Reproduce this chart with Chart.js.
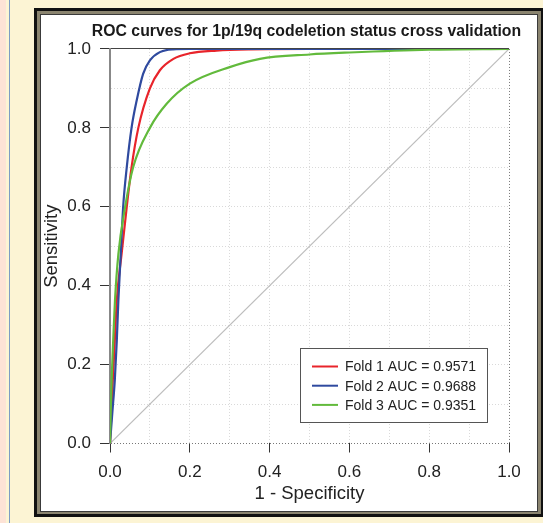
<!DOCTYPE html>
<html>
<head>
<meta charset="utf-8">
<script src="https://cdn.jsdelivr.net/npm/chart.js@4"></script>
<style>
  body { margin: 0; width: 543px; height: 523px; overflow: hidden; background: #fcf4d4; position: relative; }
  #pink { position: absolute; left: 0; top: 0; width: 6px; height: 523px; background: #fde3d6; }
  #rule { position: absolute; left: 9px; top: 0; width: 1px; height: 523px; background: #7d9cc4; }
  #frame { position: absolute; left: 34px; top: 8px; width: 509px; height: 509px; background: #111; }
  #frame .taupe { position: absolute; left: 3px; top: 3px; right: 2px; bottom: 3px; background: #8a846f; }
  #frame .dark { position: absolute; left: 3px; top: 3px; right: 3px; bottom: 2px; background: #3a3a3a; }
  #frame .paper { position: absolute; left: 1px; top: 1px; right: 1px; bottom: 1px; background: #fff; }
  #chart { position: absolute; left: 0; top: 0; z-index: 2; }
</style>
</head>
<body>
<div id="pink"></div>
<div id="rule"></div>
<div id="frame"><div class="taupe"><div class="dark"><div class="paper"></div></div></div></div>
<canvas id="chart" width="613" height="523"></canvas>
<script>
const chartTitle = 'ROC curves for 1p/19q codeletion status cross validation';
const foldLabels = ['Fold 1 AUC = 0.9571', 'Fold 2 AUC = 0.9688', 'Fold 3 AUC = 0.9351'];
const foldColors = ['#e8242b', '#2f4a9f', '#62ba3c'];

// 1 - specificity / sensitivity
const fold1Fpr = [0, 0.004, 0.007, 0.012, 0.017, 0.029, 0.042, 0.054, 0.071, 0.1, 0.125, 0.159, 0.2, 0.267, 0.35, 0.5, 1];
const fold1Tpr = [0, 0.09, 0.16, 0.26, 0.363, 0.48, 0.6, 0.7, 0.8, 0.9, 0.946, 0.975, 0.989, 0.996, 0.999, 1, 1];
const fold2Fpr = [0, 0.006, 0.012, 0.017, 0.021, 0.027, 0.033, 0.042, 0.054, 0.067, 0.083, 0.1, 0.125, 0.158, 0.2, 1];
const fold2Tpr = [0, 0.08, 0.16, 0.26, 0.363, 0.481, 0.6, 0.7, 0.8, 0.87, 0.937, 0.971, 0.992, 0.999, 1, 1];
const fold3Fpr = [0, 0.002, 0.004, 0.008, 0.0125, 0.021, 0.038, 0.058, 0.1, 0.142, 0.2, 0.3, 0.376, 0.5, 0.6, 0.8, 1];
const fold3Tpr = [0, 0.09, 0.16, 0.26, 0.363, 0.48, 0.6, 0.7, 0.8, 0.861, 0.912, 0.954, 0.975, 0.986, 0.991, 0.998, 1];
const chanceX = [0, 1];
const chanceY = [0, 1];

const fontFamily = "'Liberation Sans', Arial, sans-serif";

function toPoints(xs, ys) {
  return xs.map((x, i) => ({ x: x, y: ys[i] }));
}

function isLabelled(ctx) {
  return ctx.tick && Math.round(ctx.tick.value * 10) % 2 === 0;
}

// R-style legend box in the lower right of the plot
const legendBox = {
  id: 'legendBox',
  afterDatasetsDraw(chart) {
    const { ctx, chartArea } = chart;
    const w = 187, h = 74;
    const x = chartArea.right - 22 - w;
    const y = chartArea.bottom - 21.5 - h;
    ctx.save();
    ctx.fillStyle = '#fff';
    ctx.fillRect(x, y, w, h);
    ctx.strokeStyle = '#555';
    ctx.lineWidth = 1;
    ctx.strokeRect(Math.round(x) + 0.5, Math.round(y) + 0.5, w, h);
    ctx.font = '14px ' + fontFamily;
    ctx.textBaseline = 'middle';
    ctx.textAlign = 'left';
    foldLabels.forEach((label, i) => {
      const ly = y + 18.5 + i * 19.2;
      ctx.strokeStyle = foldColors[i];
      ctx.lineWidth = 2;
      ctx.beginPath();
      ctx.moveTo(x + 12, ly);
      ctx.lineTo(x + 38, ly);
      ctx.stroke();
      ctx.fillStyle = '#222';
      ctx.fillText(label, x + 45, ly + 1);
    });
    ctx.restore();
  }
};

const curves = [toPoints(fold1Fpr, fold1Tpr), toPoints(fold2Fpr, fold2Tpr), toPoints(fold3Fpr, fold3Tpr)];

new Chart(document.getElementById('chart'), {
  type: 'scatter',
  data: {
    datasets: [
      ...curves.map((pts, i) => ({
        label: foldLabels[i],
        data: pts,
        showLine: true,
        borderColor: foldColors[i],
        borderWidth: 2.2,
        pointRadius: 0,
        cubicInterpolationMode: 'monotone',
        order: 3 - i
      })),
      {
        label: 'chance',
        data: toPoints(chanceX, chanceY),
        showLine: true,
        borderColor: '#bdbdbd',
        borderWidth: 1.2,
        pointRadius: 0,
        order: 5
      }
    ]
  },
  options: {
    responsive: false,
    animation: false,
    devicePixelRatio: 1,
    layout: { padding: 0 },
    plugins: {
      legend: { display: false },
      tooltip: { enabled: false },
      title: {
        display: true,
        text: chartTitle,
        color: '#1a1a1a',
        font: { family: fontFamily, size: 15.8, weight: 'bold' },
        padding: { top: 22, bottom: 8 }
      }
    },
    scales: {
      x: {
        type: 'linear',
        min: 0,
        max: 1,
        afterFit(scale) { scale.height = 79.5; },
        ticks: {
          stepSize: 0.1,
          autoSkip: false,
          maxRotation: 0,
          padding: 10,
          color: '#222',
          font: { family: fontFamily, size: 17 },
          callback: (v) => (Math.round(v * 10) % 2 === 0 ? v.toFixed(1) : '')
        },
        grid: {
          tickLength: 9,
          color: (ctx) => (ctx.tick && ctx.tick.value === 1 ? '#777' : (ctx.tick && ctx.tick.value === 0 ? 'rgba(0,0,0,0)' : '#d9d9d9')),
          lineWidth: 1,
          tickColor: (ctx) => (isLabelled(ctx) ? '#333' : 'rgba(0,0,0,0)'),
          tickWidth: 1
        },
        border: { display: false, dash: [1, 2] },
        title: {
          display: true,
          text: '1 - Specificity',
          color: '#222',
          font: { family: fontFamily, size: 18.5 },
          padding: { top: 0, bottom: 18 }
        }
      },
      y: {
        type: 'linear',
        min: 0,
        max: 1,
        afterFit(scale) { scale.width = 110; },
        ticks: {
          stepSize: 0.1,
          autoSkip: false,
          padding: 9,
          color: '#222',
          font: { family: fontFamily, size: 17 },
          callback: (v) => (Math.round(v * 10) % 2 === 0 ? v.toFixed(1) : '')
        },
        grid: {
          tickLength: 10,
          color: (ctx) => (ctx.tick && ctx.tick.value === 1 ? '#444' : (ctx.tick && ctx.tick.value === 0 ? '#777' : '#d9d9d9')),
          lineWidth: 1,
          tickColor: (ctx) => (isLabelled(ctx) ? '#333' : 'rgba(0,0,0,0)'),
          tickWidth: 1
        },
        border: {
          display: true,
          color: '#888',
          width: 2,
          dash: (ctx) => (ctx.tick && ctx.tick.value === 1 ? [] : [1, 2])
        },
        title: {
          display: true,
          text: 'Sensitivity',
          color: '#222',
          font: { family: fontFamily, size: 18.5 },
          padding: { top: 41, bottom: 0 }
        }
      },
      // empty right-hand margin so the title centres over the plot like R does
      yMargin: {
        type: 'linear',
        position: 'right',
        min: 0,
        max: 1,
        afterFit(scale) { scale.width = 104; },
        ticks: { display: false },
        grid: { display: false },
        border: { display: false }
      }
    }
  },
  plugins: [legendBox]
});
</script>
</body>
</html>
